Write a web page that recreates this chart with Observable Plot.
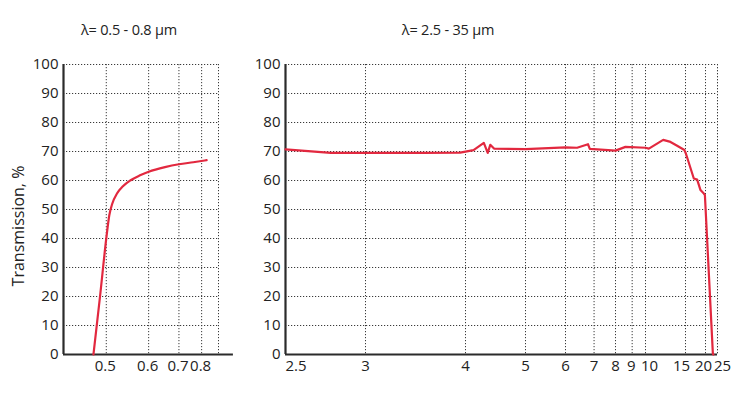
<!DOCTYPE html>
<html><head><meta charset="utf-8">
<script src="https://cdn.jsdelivr.net/npm/d3@7"></script>
<script src="https://cdn.jsdelivr.net/npm/@observablehq/plot@0.6"></script>
<style>
body{margin:0;background:#fff;font-family:"Open Sans",sans-serif;}
#wrap{position:relative;width:745px;height:395px;overflow:hidden;background:#fff}
.title{position:absolute;top:20px;font-size:14.5px;color:#222;transform:translateX(-50%);white-space:nowrap;line-height:20px;letter-spacing:-0.2px}
.ylab{position:absolute;left:18px;top:226px;font-size:16px;color:#222;white-space:nowrap;transform:translate(-50%,-50%) rotate(-90deg)}
.panel{position:absolute;top:0}
</style>
</head><body>
<div id="wrap">
  <div class="title" style="left:129px">λ= 0.5 - 0.8 µm</div>
  <div class="title" style="left:448px">λ= 2.5 - 35 µm</div>
  <div class="ylab">Transmission, %</div>
  <div id="left" class="panel" style="left:0"></div>
  <div id="right" class="panel" style="left:240px"></div>
</div>
<script>
// Visible range (µm) and transmission (%)
const visWavelength   = [0.476, 0.488, 0.500, 0.506, 0.512, 0.522, 0.535, 0.552, 0.575, 0.600, 0.650, 0.700, 0.760, 0.826];
const visTransmission = [0,     20,    40,    48,    52,    55.5,  58,    60,    61.7,  63,    64.6,  65.6,  66.3,  67];
// Infrared range (µm) and transmission (%)
const irWavelength   = [2.5, 2.76, 3.0, 3.5, 3.93, 4.11, 4.26, 4.32, 4.36, 4.42, 5.0, 6.0, 6.37, 6.76, 6.83, 8.0, 8.57, 10.0, 10.29, 11.73, 12.63, 13.58, 14.8, 15.07, 16.74, 17.56, 18.46, 19.46, 19.8, 22.8, 23.0];
const irTransmission = [70.7, 69.5, 69.5, 69.5, 69.6, 70.5, 73.0, 69.5, 72.3, 71.0, 70.8, 71.4, 71.3, 72.5, 70.9, 70.3, 71.6, 71.3, 71.0, 74.0, 73.3, 72.0, 70.5, 69.3, 60.7, 60.3, 56.7, 55.5, 55.0, 0.3, 0];
// Axis ticks
const visTicks = [0.5, 0.6, 0.7, 0.8];
const irTicks = [2.5, 3, 4, 5, 6, 7, 8, 9, 10, 15, 20, 25];
const yTicks = [0, 10, 20, 30, 40, 50, 60, 70, 80, 90, 100];
const visDomain = [0.428, 0.895];
const irDomain = [2.5, 25];

const visData = visWavelength.map((w, i) => ({w, t: visTransmission[i]}));
const irData = irWavelength.map((w, i) => ({w, t: irTransmission[i]}));

const red = "#e2283f";
const gridStyle = {stroke: "#3a3a3a", strokeOpacity: 1, strokeWidth: 1, strokeDasharray: "1.2,1.8"};
const axisColor = "#2b2b2b";
const fmt = d => String(d);
const xAxisOpts = {tickSize: 0, tickPadding: 6, fontSize: 15, label: null, tickFormat: fmt};

function panel({data, domain, gridTicks, width, marginLeft, marginRight, extraMarks, curve}) {
  return Plot.plot({
    width, height: 395,
    marginLeft, marginRight, marginTop: 64, marginBottom: 41,
    style: {fontFamily: "'Open Sans', sans-serif", fontSize: "15px", color: "#222", background: "transparent", overflow: "visible"},
    x: {type: "pow", exponent: -1, domain, axis: null},
    y: {domain: [0, 100], axis: null},
    marks: [
      Plot.gridY(yTicks, gridStyle),
      Plot.gridX(gridTicks, gridStyle),
      Plot.ruleX([domain[1]], gridStyle),
      Plot.axisY(yTicks, {tickSize: 0, tickPadding: 5, fontSize: 15, label: null, tickFormat: fmt}),
      ...extraMarks,
      Plot.ruleX([domain[0]], {stroke: axisColor, strokeWidth: 2.2}),
      Plot.line(data, {x: "w", y: "t", stroke: red, strokeWidth: 2.2, curve, strokeLinejoin: "round"})
    ]
  });
}

const left = panel({
  data: visData, domain: visDomain, gridTicks: visTicks,
  width: 245, marginLeft: 63, marginRight: 27, curve: "monotone-x",
  extraMarks: [
    Plot.axisX(visTicks, {...xAxisOpts, dx: -1}),
    Plot.ruleY([0], {x1: visDomain[0], x2: 1.0, stroke: axisColor, strokeWidth: 2.2})
  ]
});
document.getElementById("left").appendChild(left);

const right = panel({
  data: irData, domain: irDomain, gridTicks: irTicks.slice(1),
  width: 505, marginLeft: 45, marginRight: 28, curve: "linear",
  extraMarks: [
    Plot.axisX(irTicks.slice(0, 1), {...xAxisOpts, textAnchor: "start"}),
    Plot.axisX(irTicks.slice(1, 7), xAxisOpts),
    Plot.axisX(irTicks.slice(7, 8), {...xAxisOpts, dx: -1}),
    Plot.axisX(irTicks.slice(8, 9), {...xAxisOpts, dx: 4}),
    Plot.axisX(irTicks.slice(9, 10), {...xAxisOpts, dx: -4}),
    Plot.axisX(irTicks.slice(10, 11), {...xAxisOpts, dx: -2}),
    Plot.axisX(irTicks.slice(11), {...xAxisOpts, dx: 5}),
    Plot.ruleY([0], {stroke: axisColor, strokeWidth: 2.2})
  ]
});
document.getElementById("right").appendChild(right);
</script>
</body></html>
